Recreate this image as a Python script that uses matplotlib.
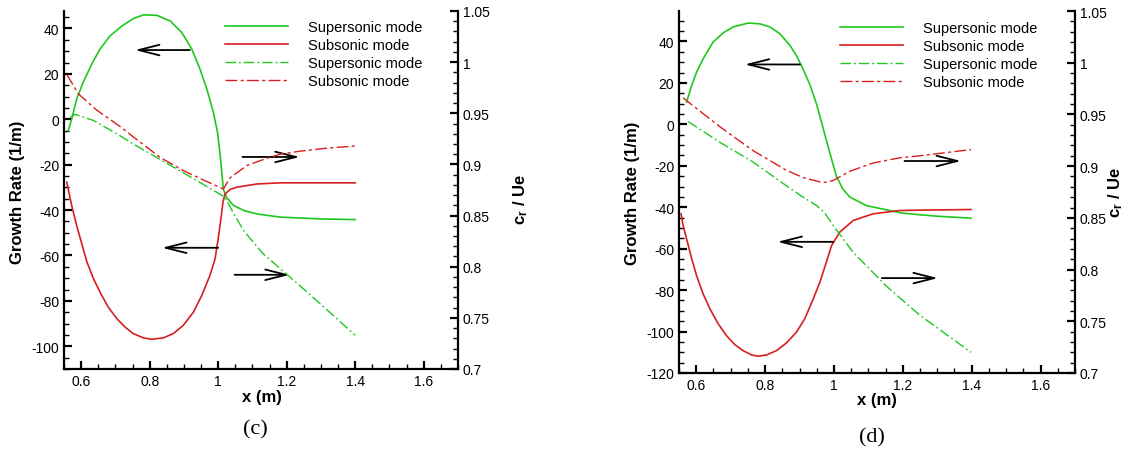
import matplotlib
matplotlib.use("Agg")
import matplotlib.pyplot as plt
from matplotlib.lines import Line2D
from matplotlib.ticker import MultipleLocator, FormatStrFormatter

plt.rcParams['font.family'] = ['Liberation Sans', 'DejaVu Sans']
plt.rcParams['mathtext.fontset'] = 'custom'
plt.rcParams['mathtext.bf'] = 'Liberation Sans:bold'
plt.rcParams['mathtext.rm'] = 'Liberation Sans'

GREEN = '#1ec81e'
RED = '#d81e1e'
DASH_G = (0, (7.5, 2.2, 1.3, 2.2))
DASH_R = (0, (8.5, 2.4, 2.2, 2.4))

# ---- panel (c) ----
c_x_sup = [0.5626, 0.5725, 0.587, 0.606, 0.631, 0.655, 0.684, 0.719, 0.753, 0.782, 0.821, 0.86,
           0.894, 0.923, 0.947, 0.967, 0.986, 0.998, 1.006, 1.015, 1.025, 1.045, 1.075, 1.113,
           1.181, 1.30, 1.40]
c_g_sup = [-5.0, 0.1, 8.9, 16.3, 24.3, 30.9, 36.7, 41.1, 44.4, 46.0, 45.8, 43.3,
           38.2, 30.9, 22.1, 13.3, 3.1, -5.7, -16.0, -30.7, -34.5, -38.0, -40.2, -41.7,
           -43.1, -43.9, -44.2]
c_x_sub = [0.558, 0.5725, 0.587, 0.602, 0.617, 0.636, 0.655, 0.679, 0.704, 0.728, 0.752, 0.782,
           0.806, 0.84, 0.869, 0.898, 0.928, 0.952, 0.976, 0.991, 1.0, 1.008, 1.014, 1.02,
           1.035, 1.055, 1.113, 1.181, 1.3, 1.40]
c_g_sub = [-27.7, -38.0, -46.8, -54.9, -62.9, -70.2, -76.1, -82.7, -87.8, -91.5, -94.4, -96.3,
           -96.9, -96.3, -94.4, -90.8, -84.9, -77.6, -68.8, -61.4, -52.7, -43.9, -36.5, -32.9,
           -30.9, -29.9, -28.5, -28.0, -28.0, -28.0]
c_x_subcr = [0.558, 0.592, 0.646, 0.714, 0.752, 0.83, 0.898, 0.962, 1.015, 1.035, 1.084, 1.142,
             1.181, 1.24, 1.32, 1.40]
c_c_subcr = [0.988, 0.969, 0.953, 0.937, 0.927, 0.907, 0.894, 0.884, 0.876, 0.887, 0.899, 0.906,
             0.910, 0.913, 0.916, 0.918]
c_x_supcr = [0.568, 0.582, 0.636, 0.709, 0.752, 0.82, 0.918, 1.02, 1.045, 1.075, 1.13, 1.24,
             1.337, 1.40]
c_c_supcr = [0.946, 0.949, 0.943, 0.929, 0.920, 0.907, 0.888, 0.868, 0.852, 0.835, 0.813, 0.781,
             0.752, 0.733]
c_arrows = [((0.917, 30.5), (0.757, 30.5)), ((1.0, -56.6), (0.836, -56.6)),
            ((1.071, -16.6), (1.238, -16.6)), ((1.048, -68.5), (1.209, -68.5))]

# ---- panel (d) ----
d_x_sup = [0.572, 0.587, 0.601, 0.62, 0.649, 0.678, 0.707, 0.751, 0.785, 0.814, 0.843, 0.872,
           0.891, 0.91, 0.93, 0.949, 0.968, 0.988, 1.007, 1.025, 1.046, 1.094, 1.162, 1.2,
           1.297, 1.398]
d_g_sup = [10.7, 18.8, 25.2, 31.6, 39.7, 44.1, 47.0, 48.9, 48.5, 47.0, 43.7, 38.1,
           33.2, 26.8, 19.2, 10.0, -1.5, -13.8, -25.0, -31.0, -35.1, -39.2, -41.6, -42.9,
           -44.3, -45.3]
d_x_sub = [0.556, 0.562, 0.572, 0.587, 0.601, 0.62, 0.64, 0.664, 0.688, 0.712, 0.736, 0.761,
           0.78, 0.804, 0.833, 0.862, 0.891, 0.915, 0.94, 0.959, 0.978, 0.993, 1.017, 1.056,
           1.113, 1.19, 1.25, 1.398]
d_g_sub = [-43.2, -48.8, -55.3, -64.9, -73.0, -81.8, -89.1, -96.3, -102.0, -106.3, -109.2, -111.3,
           -111.9, -111.3, -109.2, -105.5, -100.3, -93.9, -84.2, -76.2, -66.5, -58.5, -52.0, -46.4,
           -43.2, -41.6, -41.4, -41.1]
d_x_subcr = [0.562, 0.669, 0.765, 0.862, 0.91, 0.968, 0.997, 1.046, 1.113, 1.19, 1.249, 1.398]
d_c_subcr = [0.966, 0.938, 0.915, 0.896, 0.889, 0.884, 0.886, 0.895, 0.903, 0.908, 0.910, 0.916]
d_x_supcr = [0.577, 0.669, 0.765, 0.862, 0.901, 0.949, 0.973, 0.997, 1.055, 1.152, 1.249, 1.398]
d_c_supcr = [0.943, 0.923, 0.904, 0.881, 0.872, 0.862, 0.855, 0.843, 0.817, 0.784, 0.756, 0.720]
d_arrows = [((0.901, 28.9), (0.741, 28.9)), ((0.997, -56.7), (0.836, -56.7)),
            ((1.205, -17.7), (1.369, -17.7)), ((1.139, -74.2), (1.302, -74.2))]

labels = ['Supersonic mode', 'Subsonic mode', 'Supersonic mode', 'Subsonic mode']

W, H = 1129, 452
fig = plt.figure(figsize=(W / 100, H / 100), dpi=100)


def style_axis(a):
    a.tick_params(which='major', direction='in', length=6, width=1.6, labelsize=10, pad=3.5)
    a.tick_params(which='minor', direction='in', length=3.5, width=1.0)
    for s in a.spines.values():
        s.set_linewidth(1.6)


def panel(px, gl, xs, arrows, lab_pos, cap):
    l, r, t, b = px
    ax = fig.add_axes([l / W, 1 - b / H, (r - l) / W, (b - t) / H])
    tw = ax.twinx()
    xsup, gsup, xsub, gsub, xsubcr, csubcr, xsupcr, csupcr = xs
    ax.plot(xsup, gsup, color=GREEN, lw=1.2)
    ax.plot(xsub, gsub, color=RED, lw=1.2)
    tw.plot(xsupcr, csupcr, color=GREEN, lw=1.0, ls=DASH_G)
    tw.plot(xsubcr, csubcr, color=RED, lw=1.0, ls=DASH_R)
    for tail, head in arrows:
        ax.annotate('', xy=head, xytext=tail,
                    arrowprops=dict(arrowstyle='->,head_length=1.5,head_width=0.38',
                                    color='black', lw=1.3, mutation_scale=10,
                                    shrinkA=0, shrinkB=0))
    ax.set_xlim(0.55, 1.7)
    ax.set_ylim(*gl)
    tw.set_ylim(0.7, 1.05)
    ax.xaxis.set_major_locator(MultipleLocator(0.2))
    ax.xaxis.set_minor_locator(MultipleLocator(0.05))
    ax.yaxis.set_major_locator(MultipleLocator(20))
    ax.yaxis.set_minor_locator(MultipleLocator(5))
    tw.yaxis.set_major_locator(MultipleLocator(0.05))
    tw.yaxis.set_minor_locator(MultipleLocator(0.01))
    ax.xaxis.set_major_formatter(FormatStrFormatter('%g'))
    ax.yaxis.set_major_formatter(FormatStrFormatter('%g'))
    tw.yaxis.set_major_formatter(FormatStrFormatter('%g'))
    ax.spines['top'].set_visible(False)
    ax.spines['right'].set_visible(False)
    for s in ['top', 'left', 'bottom']:
        tw.spines[s].set_visible(False)
    style_axis(ax)
    style_axis(tw)

    handles = [Line2D([], [], color=GREEN, lw=1.2), Line2D([], [], color=RED, lw=1.2),
               Line2D([], [], color=GREEN, lw=1.0, ls=DASH_G),
               Line2D([], [], color=RED, lw=1.0, ls=DASH_R)]
    tw.legend(handles, labels, loc='upper left',
              bbox_to_anchor=(lab_pos['leg'][0] / W, 1 - lab_pos['leg'][1] / H),
              bbox_transform=fig.transFigure, frameon=False, fontsize=10.5,
              handlelength=4.3, handletextpad=1.4, labelspacing=0.27,
              borderpad=0, borderaxespad=0)

    fig.text(lab_pos['yl'][0] / W, 1 - lab_pos['yl'][1] / H, 'Growth Rate (1/m)',
             rotation=90, ha='center', va='center', fontsize=12, fontweight='bold')
    fig.text(lab_pos['yr'][0] / W, 1 - lab_pos['yr'][1] / H, r'$\mathbf{c_r}$ / Ue',
             rotation=90, ha='center', va='center', fontsize=12, fontweight='bold')
    fig.text(lab_pos['xl'][0] / W, 1 - lab_pos['xl'][1] / H, 'x (m)',
             ha='center', va='center', fontsize=12, fontweight='bold')
    fig.text(lab_pos['cap'][0] / W, 1 - lab_pos['cap'][1] / H, cap,
             ha='center', va='center', fontsize=16, family='Liberation Serif')


panel((64, 458, 12, 370), (-110, 47.7),
      (c_x_sup, c_g_sup, c_x_sub, c_g_sub, c_x_subcr, c_c_subcr, c_x_supcr, c_c_supcr),
      c_arrows,
      {'leg': (225, 21), 'yl': (18, 192), 'yr': (521, 200), 'xl': (262, 398), 'cap': (255, 430)},
      '(c)')
panel((679, 1075, 12, 374), (-120, 54.7),
      (d_x_sup, d_g_sup, d_x_sub, d_g_sub, d_x_subcr, d_c_subcr, d_x_supcr, d_c_supcr),
      d_arrows,
      {'leg': (840, 22), 'yl': (632, 193), 'yr': (1116, 193), 'xl': (877, 401), 'cap': (872, 438)},
      '(d)')

fig.savefig('out.png', dpi=100)
